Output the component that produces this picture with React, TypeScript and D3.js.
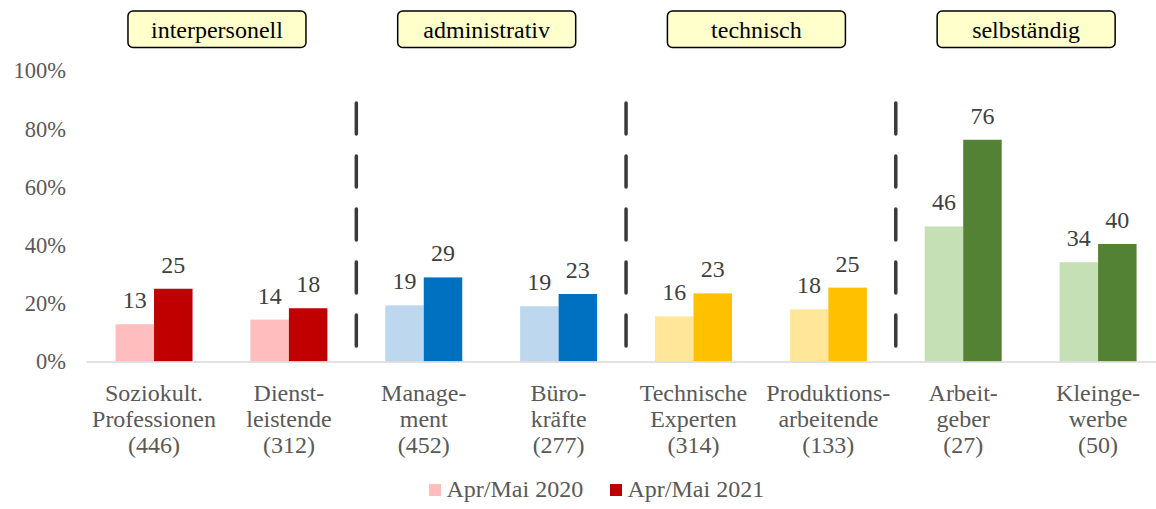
import { useEffect, useRef } from "react";
import * as d3 from "d3";

const categoryLabels = [
  ["Soziokult.", "Professionen", "(446)"],
  ["Dienst-", "leistende", "(312)"],
  ["Manage-", "ment", "(452)"],
  ["Büro-", "kräfte", "(277)"],
  ["Technische", "Experten", "(314)"],
  ["Produktions-", "arbeitende", "(133)"],
  ["Arbeit-", "geber", "(27)"],
  ["Kleinge-", "werbe", "(50)"],
];

const values2020 = [12.8, 14.4, 19.3, 19.0, 15.5, 17.9, 46.4, 34.1];
const values2021 = [25.0, 18.3, 28.9, 23.2, 23.4, 25.4, 76.2, 40.4];

const groupNames = ["interpersonell", "administrativ", "technisch", "selbständig"];
const lightColors = ["#FFBDBD", "#BDD7EE", "#FFE699", "#C5E0B4"];
const darkColors = ["#C00000", "#0070C0", "#FFC000", "#548235"];

const seriesNames = ["Apr/Mai 2020", "Apr/Mai 2021"];
const yTicks = [0, 20, 40, 60, 80, 100];

const FONT = "Liberation Serif";

export default function App() {
  const ref = useRef<SVGSVGElement>(null);

  useEffect(() => {
    const svg = d3.select(ref.current);
    svg.selectAll("*").remove();

    const width = 1156;
    const height = 509;

    const x = d3
      .scaleBand<number>()
      .domain(d3.range(categoryLabels.length))
      .range([86.6, 1165.5]);

    const y = d3.scaleLinear().domain([0, 100]).range([361.5, 70.5]);

    const inner = d3
      .scaleBand<number>()
      .domain([0, 1])
      .range([0, 77]);

    const barX = (i: number, s: number) =>
      x(i)! + x.bandwidth() / 2 - 38.5 + inner(s)!;

    const data = categoryLabels.map((_, i) => ({
      i,
      group: Math.floor(i / 2),
      v: [values2020[i], values2021[i]],
    }));

    // y tick labels
    svg
      .append("g")
      .selectAll("text")
      .data(yTicks)
      .join("text")
      .attr("x", 66)
      .attr("y", (d) => y(d))
      .attr("dy", "0.35em")
      .attr("text-anchor", "end")
      .attr("font-size", 22.5)
      .attr("fill", "#595959")
      .text((d) => `${d}%`);

    // bars
    const bars = svg.append("g");
    data.forEach((d) => {
      [0, 1].forEach((s) => {
        bars
          .append("rect")
          .attr("x", barX(d.i, s))
          .attr("y", y(d.v[s]))
          .attr("width", inner.bandwidth())
          .attr("height", y(0) - y(d.v[s]))
          .attr("fill", s === 0 ? lightColors[d.group] : darkColors[d.group]);
        bars
          .append("text")
          .attr("x", barX(d.i, s) + inner.bandwidth() / 2)
          .attr("y", y(d.v[s]) - 16)
          .attr("text-anchor", "middle")
          .attr("font-size", 24)
          .attr("fill", "#404040")
          .text(Math.round(d.v[s]));
      });
    });

    // x axis line
    svg
      .append("line")
      .attr("x1", 86.6)
      .attr("x2", width)
      .attr("y1", y(0) + 0.5)
      .attr("y2", y(0) + 0.5)
      .attr("stroke", "#d9d9d9")
      .attr("stroke-width", 1.5);

    // category labels
    const cat = svg.append("g");
    categoryLabels.forEach((lines, i) => {
      const t = cat
        .append("text")
        .attr("text-anchor", "middle")
        .attr("font-size", 24)
        .attr("fill", "#595959");
      lines.forEach((line, k) => {
        t.append("tspan")
          .attr("x", x(i)! + x.bandwidth() / 2)
          .attr("y", 401 + k * 26)
          .text(line);
      });
    });

    // dashed separators between groups
    [2, 4, 6].forEach((i) => {
      svg
        .append("line")
        .attr("x1", x(i)!)
        .attr("x2", x(i)!)
        .attr("y1", 103)
        .attr("y2", 346)
        .attr("stroke", "#3a3a3a")
        .attr("stroke-width", 3.5)
        .attr("stroke-linecap", "round")
        .attr("stroke-dasharray", "31 22");
    });

    // group header boxes
    groupNames.forEach((name, g) => {
      const cx = x(g * 2 + 1)! - 4.5;
      svg
        .append("rect")
        .attr("x", cx - 89)
        .attr("y", 11)
        .attr("width", 178)
        .attr("height", 36.5)
        .attr("rx", 5)
        .attr("fill", "#FFFFCC")
        .attr("stroke", "#000")
        .attr("stroke-width", 1.5);
      svg
        .append("text")
        .attr("x", cx)
        .attr("y", 37.5)
        .attr("text-anchor", "middle")
        .attr("font-size", 24)
        .attr("fill", "#000")
        .text(name);
    });

    // legend
    const legendX = [429, 610];
    const legendColors = [lightColors[0], darkColors[0]];
    seriesNames.forEach((name, s) => {
      svg
        .append("rect")
        .attr("x", legendX[s])
        .attr("y", 484)
        .attr("width", 12)
        .attr("height", 12)
        .attr("fill", legendColors[s]);
      svg
        .append("text")
        .attr("x", legendX[s] + 17.5)
        .attr("y", 497)
        .attr("font-size", 24)
        .attr("fill", "#595959")
        .text(name);
    });

    svg.attr("width", width).attr("height", height);
  }, []);

  return (
    <svg
      ref={ref}
      width={1156}
      height={509}
      style={{
        position: "absolute",
        left: 0,
        top: 0,
        background: "#fff",
        fontFamily: FONT,
      }}
    />
  );
}
